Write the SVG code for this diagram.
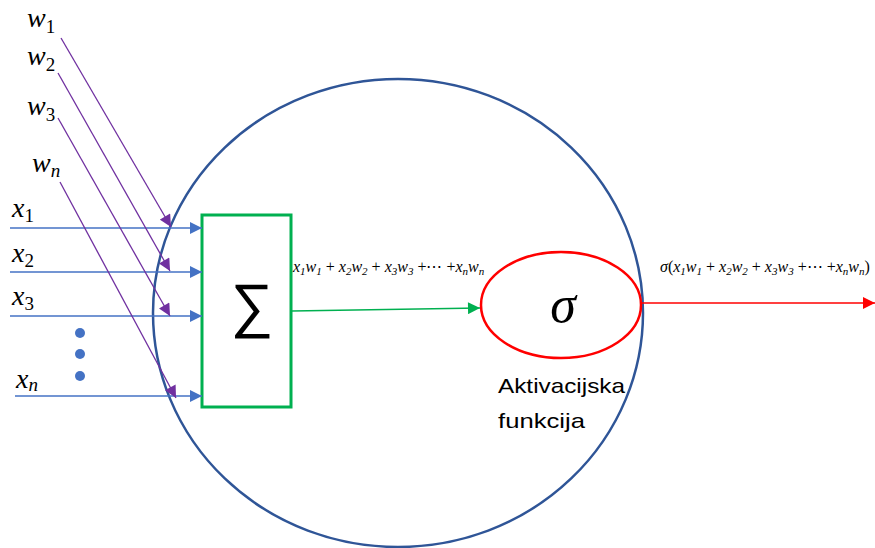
<svg xmlns="http://www.w3.org/2000/svg" width="875" height="548" viewBox="0 0 875 548">
<defs>
<style>
.m{font-family:"Liberation Serif","DejaVu Serif",serif;font-style:italic;fill:#000}
.s{font-family:"Liberation Serif","DejaVu Serif",serif;fill:#000}
.in{stroke:#4472c4;stroke-width:1.5;fill:none}
.w{stroke:#7030a0;stroke-width:1.3;fill:none}
.lbl{font-family:"Liberation Sans","Open Sans",sans-serif;fill:#000}
</style>
<marker id="ab" viewBox="0 0 10 10" refX="10" refY="5" markerWidth="14" markerHeight="12" markerUnits="userSpaceOnUse" orient="auto"><path d="M0,0L10,5L0,10z" fill="#4472c4"/></marker>
<marker id="ap" viewBox="0 0 10 10" refX="10" refY="5" markerWidth="14" markerHeight="12" markerUnits="userSpaceOnUse" orient="auto"><path d="M0,0L10,5L0,10z" fill="#7030a0"/></marker>
<marker id="ag" viewBox="0 0 10 10" refX="10" refY="5" markerWidth="14" markerHeight="12" markerUnits="userSpaceOnUse" orient="auto"><path d="M0,0L10,5L0,10z" fill="#00b050"/></marker>
<marker id="ar" viewBox="0 0 10 10" refX="10" refY="5" markerWidth="12" markerHeight="14" markerUnits="userSpaceOnUse" orient="auto"><path d="M0,0L10,5L0,10z" fill="#ff0000"/></marker>
</defs>
<rect width="875" height="548" fill="#fff"/>

<g id="neuron">
<ellipse cx="398" cy="313" rx="245" ry="234" fill="none" stroke="#2f5597" stroke-width="2.5"/>
</g>

<g id="sum">
<rect x="202" y="215" width="89" height="192" fill="none" stroke="#00b050" stroke-width="3"/>
<text x="252" y="326" text-anchor="middle" font-family="Liberation Sans, DejaVu Sans, sans-serif" font-size="60">∑</text>
</g>

<g id="activation">
<ellipse cx="561" cy="305" rx="80" ry="53" fill="none" stroke="#ff0000" stroke-width="2.5"/>
<text x="563" y="322" text-anchor="middle" class="m" font-size="52">σ</text>
<text x="498" y="393" class="lbl" font-size="21" textLength="127" lengthAdjust="spacingAndGlyphs">Aktivacijska</text>
<text x="498" y="428" class="lbl" font-size="21" textLength="87" lengthAdjust="spacingAndGlyphs">funkcija</text>
</g>

<g id="dots" fill="#4472c4">
<circle cx="80" cy="333" r="5"/>
<circle cx="80" cy="354" r="5"/>
<circle cx="80" cy="376" r="5"/>
</g>

<g id="labels">
<text class="m" x="27" y="27" font-size="28">w<tspan class="s" font-style="normal" font-size="19" dy="6">1</tspan></text>
<text class="m" x="27" y="65" font-size="28">w<tspan class="s" font-style="normal" font-size="19" dy="6">2</tspan></text>
<text class="m" x="27" y="115" font-size="28">w<tspan class="s" font-style="normal" font-size="19" dy="6">3</tspan></text>
<text class="m" x="32" y="172" font-size="28">w<tspan font-size="19" dy="5">n</tspan></text>
<text class="m" x="12" y="217" font-size="28">x<tspan class="s" font-style="normal" font-size="19" dy="5">1</tspan></text>
<text class="m" x="12" y="262" font-size="28">x<tspan class="s" font-style="normal" font-size="19" dy="5">2</tspan></text>
<text class="m" x="12" y="305" font-size="28">x<tspan class="s" font-style="normal" font-size="19" dy="5">3</tspan></text>
<text class="m" x="16" y="388" font-size="28">x<tspan font-size="19" dy="3">n</tspan></text>
</g>

<g id="sum-label" class="m" font-size="16">
<text x="293" y="272">x<tspan font-size="11" dy="3">1</tspan><tspan dy="-3">w</tspan><tspan font-size="11" dy="3">1</tspan><tspan dy="-3" font-style="normal"> + </tspan><tspan>x</tspan><tspan font-size="11" dy="3">2</tspan><tspan dy="-3">w</tspan><tspan font-size="11" dy="3">2</tspan><tspan dy="-3" font-style="normal"> + </tspan><tspan>x</tspan><tspan font-size="11" dy="3">3</tspan><tspan dy="-3">w</tspan><tspan font-size="11" dy="3">3</tspan><tspan dy="-3" font-style="normal"> +⋯ +</tspan><tspan>x</tspan><tspan font-size="11" dy="3">n</tspan><tspan dy="-3">w</tspan><tspan font-size="11" dy="3">n</tspan></text>
</g>

<g id="output-label" class="m" font-size="16">
<text x="660" y="272">σ<tspan font-style="normal">(</tspan>x<tspan font-size="11" dy="3">1</tspan><tspan dy="-3">w</tspan><tspan font-size="11" dy="3">1</tspan><tspan dy="-3" font-style="normal"> + </tspan><tspan>x</tspan><tspan font-size="11" dy="3">2</tspan><tspan dy="-3">w</tspan><tspan font-size="11" dy="3">2</tspan><tspan dy="-3" font-style="normal"> + </tspan><tspan>x</tspan><tspan font-size="11" dy="3">3</tspan><tspan dy="-3">w</tspan><tspan font-size="11" dy="3">3</tspan><tspan dy="-3" font-style="normal"> +⋯ +</tspan><tspan>x</tspan><tspan font-size="11" dy="3">n</tspan><tspan dy="-3">w</tspan><tspan font-size="11" dy="3">n</tspan><tspan dy="-3" font-style="normal">)</tspan></text>
</g>

<g id="connectors">
<line class="in" x1="10" y1="228" x2="202" y2="228" marker-end="url(#ab)"/>
<line class="in" x1="10" y1="272" x2="202" y2="272" marker-end="url(#ab)"/>
<line class="in" x1="10" y1="316" x2="202" y2="316" marker-end="url(#ab)"/>
<line class="in" x1="15" y1="396" x2="202" y2="396" marker-end="url(#ab)"/>
<line class="w" x1="61" y1="38" x2="171" y2="227" marker-end="url(#ap)"/>
<line class="w" x1="58" y1="73" x2="170" y2="271" marker-end="url(#ap)"/>
<line class="w" x1="58" y1="118" x2="170" y2="316" marker-end="url(#ap)"/>
<line class="w" x1="60" y1="182" x2="176" y2="398" marker-end="url(#ap)"/>
<line x1="292" y1="311" x2="480" y2="308" stroke="#00b050" stroke-width="1.3" marker-end="url(#ag)"/>
<line x1="642" y1="303" x2="875" y2="303" stroke="#ff0000" stroke-width="1.5" marker-end="url(#ar)"/>
</g>
</svg>
